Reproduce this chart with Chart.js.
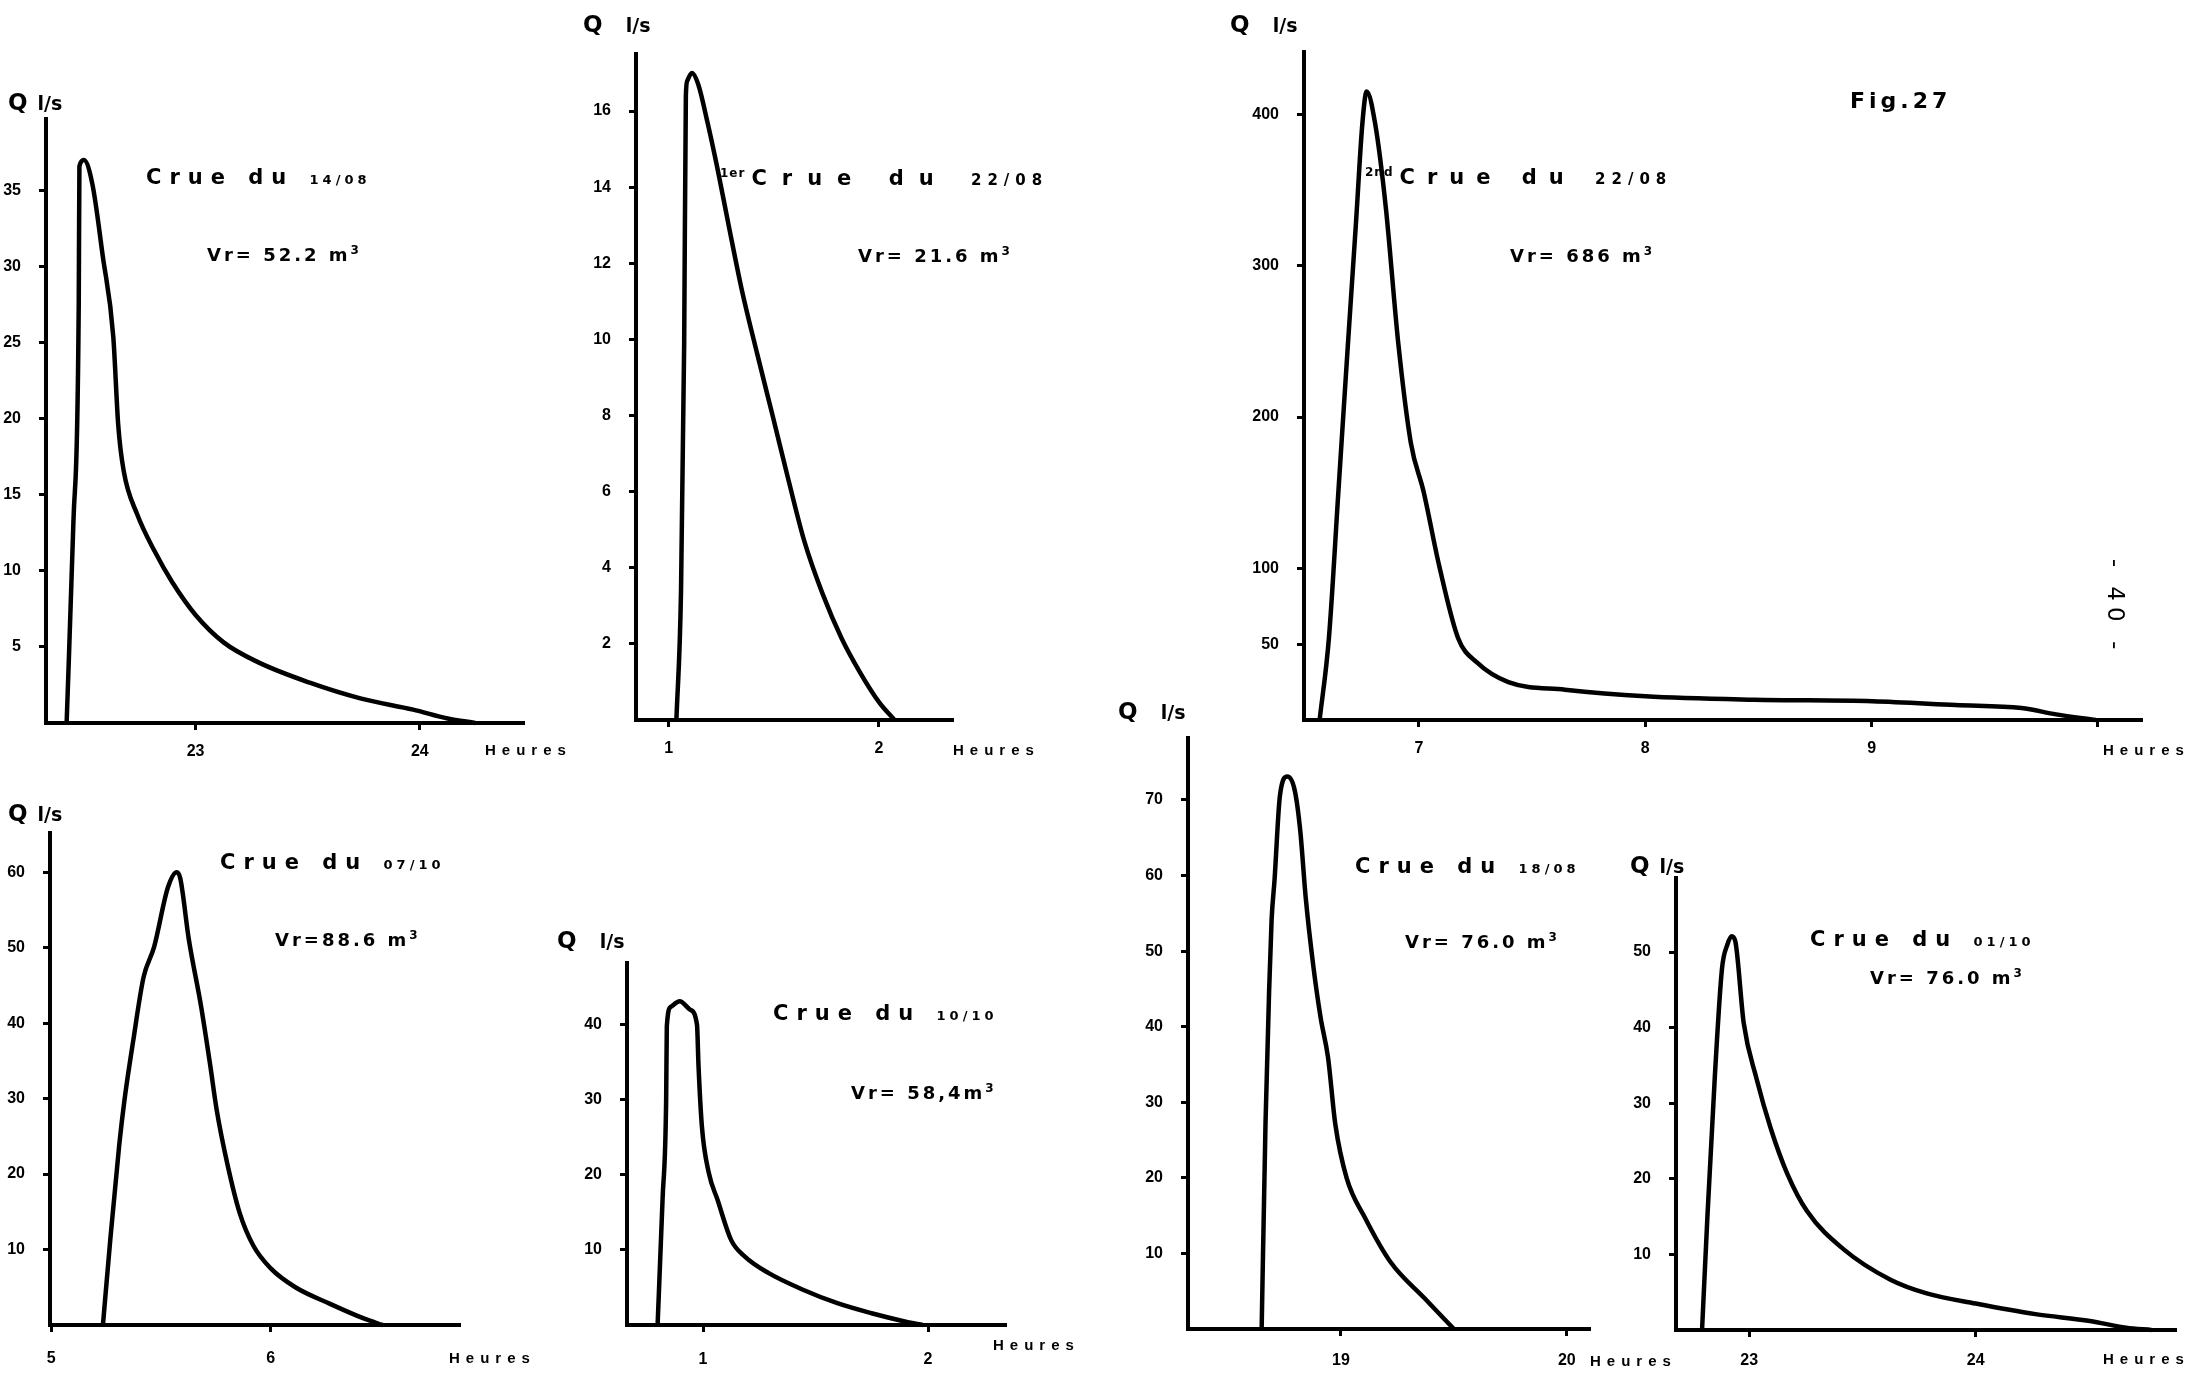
<!DOCTYPE html>
<html>
<head>
<meta charset="utf-8">
<script src="https://cdn.jsdelivr.net/npm/chart.js@4.4.1/dist/chart.umd.min.js"></script>
<style>
  html, body { margin: 0; padding: 0; background: #fff; }
  body { width: 2187px; height: 1376px; position: relative; overflow: hidden; }
  canvas { position: absolute; }
  .txt { position: absolute; color: #000; white-space: nowrap; line-height: 1; transform: translateY(-50%); }
  .q { font: bold 19px 'DejaVu Sans'; }
  .q b { font-size: 23px; margin-right: 10px; }
  .title { font: bold 21px 'DejaVu Sans'; letter-spacing: 8px; }
  .title small { font-size: 13px; letter-spacing: 4px; }
  .title.w14 { letter-spacing: 15px; }
  .title.w12 { letter-spacing: 12px; }
  .title.w14 small, .title.w12 small { font-size: 15px; letter-spacing: 6px; }
  .title sup, .vr sup { font-size: 12px; letter-spacing: 1px; }
  .title sup { margin-right: 6px; }
  .vr { font: bold 18px 'DejaVu Sans'; letter-spacing: 3px; }
  .unit { font: bold 15px 'Liberation Sans'; letter-spacing: 6px; }
  .fig { font: bold 22px 'DejaVu Sans'; letter-spacing: 4px; }
  .page { font: 23px 'DejaVu Sans'; letter-spacing: 6px; writing-mode: vertical-rl; transform: translate(-50%, -50%); }
</style>
</head>
<body>
<script>
// Crue du 14/08
var p1Hours = [22.425, 22.455, 22.479, 22.482, 22.502, 22.54, 22.586, 22.633, 22.655, 22.679, 22.74, 22.817, 22.894, 23.0, 23.125, 23.278, 23.509, 23.739, 23.97, 24.124, 24.247];
var p1Flow = [0, 13.1, 27.5, 36.6, 37.0, 35.4, 30.7, 25.4, 19.6, 16.6, 13.7, 11.3, 9.3, 7.1, 5.3, 4.0, 2.65, 1.6, 0.88, 0.3, 0];
var p1XTicks = [23, 24];
var p1XLabels = ['23', '24'];
var p1YTicks = [5, 10, 15, 20, 25, 30, 35];
var p1YLabels = ['5', '10', '15', '20', '25', '30', '35'];

// 1er crue du 22/08
var p2Hours = [1.037, 1.059, 1.074, 1.082, 1.089, 1.111, 1.141, 1.185, 1.23, 1.289, 1.348, 1.422, 1.496, 1.57, 1.645, 1.733, 1.822, 1.911, 2.0, 2.074];
var p2Flow = [0, 3.4, 9.9, 16.4, 16.8, 17.0, 16.7, 15.7, 14.55, 12.9, 11.3, 9.6, 7.96, 6.3, 4.7, 3.3, 2.15, 1.24, 0.47, 0];
var p2XTicks = [1, 2];
var p2XLabels = ['1', '2'];
var p2YTicks = [2, 4, 6, 8, 10, 12, 14, 16];
var p2YLabels = ['2', '4', '6', '8', '10', '12', '14', '16'];

// 2nd crue du 22/08
var p3Hours = [6.561, 6.602, 6.644, 6.686, 6.722, 6.75, 6.769, 6.806, 6.853, 6.909, 6.964, 7.02, 7.089, 7.173, 7.256, 7.395, 7.645, 8.0, 8.48, 9.003, 9.37, 9.662, 9.815, 9.99];
var p3Flow = [0, 54, 151, 248, 329, 394, 415, 394, 339, 248, 183, 151, 102, 54, 38, 25, 20, 15.7, 13.4, 12.4, 9.9, 7.9, 3.7, 0];
var p3XTicks = [7, 8, 9, 10];
var p3XLabels = ['7', '8', '9', ''];
var p3YTicks = [50, 100, 200, 300, 400];
var p3YLabels = ['50', '100', '200', '300', '400'];

// Crue du 07/10
var p4Hours = [5.236, 5.27, 5.31, 5.334, 5.374, 5.421, 5.469, 5.532, 5.572, 5.588, 5.627, 5.683, 5.723, 5.755, 5.802, 5.858, 5.921, 6.0, 6.112, 6.27, 6.429, 6.509];
var p4Flow = [0, 11.5, 23.8, 29.8, 37.7, 46.1, 50.1, 58.0, 60.0, 59.2, 51.1, 42.2, 34.7, 28.3, 21.4, 14.9, 10.5, 7.5, 5.0, 2.8, 0.8, 0];
var p4XTicks = [5, 6];
var p4XLabels = ['5', '6'];
var p4YTicks = [10, 20, 30, 40, 50, 60];
var p4YLabels = ['10', '20', '30', '40', '50', '60'];

// Crue du 10/10
var p5Hours = [0.798, 0.82, 0.836, 0.839, 0.858, 0.896, 0.942, 0.973, 0.98, 0.995, 1.026, 1.064, 1.125, 1.186, 1.292, 1.444, 1.597, 1.749, 1.901, 1.977];
var p5Flow = [0, 16.7, 30, 39.8, 42.4, 43.1, 42, 40, 34.4, 26.4, 20.2, 16.7, 11.3, 9.1, 6.9, 4.7, 2.9, 1.56, 0.44, 0];
var p5XTicks = [1, 2];
var p5XLabels = ['1', '2'];
var p5YTicks = [10, 20, 30, 40];
var p5YLabels = ['10', '20', '30', '40'];

// Crue du 18/08
var p6Hours = [18.649, 18.666, 18.682, 18.693, 18.706, 18.73, 18.763, 18.796, 18.82, 18.844, 18.877, 18.91, 18.943, 18.975, 19.025, 19.107, 19.221, 19.369, 19.5];
var p6Flow = [0, 27.1, 44.7, 54.1, 59.4, 70.6, 73.1, 71.2, 65.9, 57.1, 48.2, 41.2, 35.9, 27.1, 20.0, 14.7, 8.8, 4.1, 0];
var p6XTicks = [19, 20];
var p6XLabels = ['19', '20'];
var p6YTicks = [10, 20, 30, 40, 50, 60, 70];
var p6YLabels = ['10', '20', '30', '40', '50', '60', '70'];

// Crue du 01/10
var p7Hours = [22.792, 22.816, 22.848, 22.88, 22.904, 22.923, 22.939, 22.976, 23.032, 23.096, 23.168, 23.256, 23.416, 23.624, 23.784, 24.0, 24.264, 24.504, 24.664, 24.776];
var p7Flow = [0, 15.2, 33.3, 47.8, 51.0, 52.1, 51.4, 40.6, 33.3, 26.6, 20.7, 15.7, 10.7, 6.65, 4.84, 3.5, 2.1, 1.2, 0.3, 0];
var p7XTicks = [23, 24];
var p7XLabels = ['23', '24'];
var p7YTicks = [10, 20, 30, 40, 50];
var p7YLabels = ['10', '20', '30', '40', '50'];

// where each small graph sits on the page (plot area: left, top, right, bottom)
var panels = [
  {box: [46, 119, 523, 723], xMin: 22.333, xMax: 24.46, yMax: 39.7, xPad: 12, hours: p1Hours, flow: p1Flow, xt: p1XTicks, xl: p1XLabels, yt: p1YTicks, yl: p1YLabels},
  {box: [636, 54, 952, 720], xMin: 0.845, xMax: 2.347, yMax: 17.5, xPad: 12, hours: p2Hours, flow: p2Flow, xt: p2XTicks, xl: p2XLabels, yt: p2YTicks, yl: p2YLabels},
  {box: [1304, 52, 2141, 720], xMin: 6.492, xMax: 10.19, yMax: 441, xPad: 12, hours: p3Hours, flow: p3Flow, xt: p3XTicks, xl: p3XLabels, yt: p3YTicks, yl: p3YLabels},
  {box: [50, 833, 459, 1325], xMin: 4.995, xMax: 6.857, yMax: 65.2, xPad: 17, hours: p4Hours, flow: p4Flow, xt: p4XTicks, xl: p4XLabels, yt: p4YTicks, yl: p4YLabels},
  {box: [627, 963, 1005, 1325], xMin: 0.662, xMax: 2.342, yMax: 48.2, xPad: 18, hours: p5Hours, flow: p5Flow, xt: p5XTicks, xl: p5XLabels, yt: p5YTicks, yl: p5YLabels},
  {box: [1188, 738, 1589, 1329], xMin: 18.323, xMax: 20.098, yMax: 78.2, xPad: 15, hours: p6Hours, flow: p6Flow, xt: p6XTicks, xl: p6XLabels, yt: p6YTicks, yl: p6YLabels},
  {box: [1676, 878, 2175, 1330], xMin: 22.677, xMax: 24.88, yMax: 59.8, xPad: 14, hours: p7Hours, flow: p7Flow, xt: p7XTicks, xl: p7XLabels, yt: p7YTicks, yl: p7YLabels}
];

var texts = [
  [8, 102, 'q', '<b>Q</b>l/s'],
  [146, 177, 'title', 'Crue du <small>14/08</small>'],
  [207, 254, 'vr', 'Vr= 52.2 m<sup>3</sup>'],
  [485, 749, 'unit', 'Heures'],

  [583, 24, 'q', '<b>Q</b>&nbsp; l/s'],
  [720, 178, 'title w14', '<sup>1er</sup>Crue du <small>22/08</small>'],
  [858, 255, 'vr', 'Vr= 21.6 m<sup>3</sup>'],
  [953, 749, 'unit', 'Heures'],

  [1230, 24, 'q', '<b>Q</b>&nbsp; l/s'],
  [1850, 100, 'fig', 'Fig.27'],
  [1365, 177, 'title w12', '<sup>2nd</sup>Crue du <small>22/08</small>'],
  [1510, 255, 'vr', 'Vr= 686 m<sup>3</sup>'],
  [2103, 749, 'unit', 'Heures'],
  [2116, 607, 'page', '- 40 -'],

  [8, 813, 'q', '<b>Q</b>l/s'],
  [220, 862, 'title', 'Crue du <small>07/10</small>'],
  [275, 939, 'vr', 'Vr=88.6 m<sup>3</sup>'],
  [449, 1357, 'unit', 'Heures'],

  [557, 940, 'q', '<b>Q</b>&nbsp; l/s'],
  [773, 1013, 'title', 'Crue du <small>10/10</small>'],
  [851, 1092, 'vr', 'Vr= 58,4m<sup>3</sup>'],
  [993, 1344, 'unit', 'Heures'],

  [1118, 711, 'q', '<b>Q</b>&nbsp; l/s'],
  [1355, 866, 'title', 'Crue du <small>18/08</small>'],
  [1405, 941, 'vr', 'Vr= 76.0 m<sup>3</sup>'],
  [1590, 1360, 'unit', 'Heures'],

  [1630, 865, 'q', '<b>Q</b>l/s'],
  [1810, 939, 'title', 'Crue du <small>01/10</small>'],
  [1870, 977, 'vr', 'Vr= 76.0 m<sup>3</sup>'],
  [2103, 1358, 'unit', 'Heures']
];

var axisFont = {family: 'Liberation Sans', size: 16, weight: 'bold'};

function makePanel(p) {
  // the y scale reserves label height + tick padding above the plot, so keep padTop above that
  var yW = 60, xH = 50, padTop = 30, padRight = 30;
  var canvas = document.createElement('canvas');
  canvas.width = p.box[2] - p.box[0] + yW + padRight;
  canvas.height = p.box[3] - p.box[1] + padTop + xH;
  canvas.style.left = (p.box[0] - yW) + 'px';
  canvas.style.top = (p.box[1] - padTop) + 'px';
  document.body.appendChild(canvas);

  var points = [];
  for (var i in p.hours) {
    points.push({x: p.hours[i], y: p.flow[i]});
  }

  new Chart(canvas, {
    type: 'line',
    data: {
      datasets: [{
        data: points,
        borderColor: '#000',
        borderWidth: 4.5,
        pointRadius: 0,
        fill: false,
        tension: 0.4,
        cubicInterpolationMode: 'monotone',
        clip: false
      }]
    },
    options: {
      responsive: false,
      animation: false,
      layout: {autoPadding: false, padding: {top: padTop, right: padRight, left: 0, bottom: 0}},
      plugins: {legend: {display: false}, tooltip: {enabled: false}},
      scales: {
        x: {
          type: 'linear', min: p.xMin, max: p.xMax,
          afterBuildTicks: function(s) { s.ticks = p.xt.map(function(v) { return {value: v}; }); },
          afterFit: function(s) { s.height = xH; },
          ticks: {
            autoSkip: false, maxRotation: 0, minRotation: 0, color: '#000', font: axisFont, padding: p.xPad,
            callback: function(v, idx) { return p.xl[idx]; }
          },
          grid: {drawOnChartArea: false, drawTicks: true, tickLength: 7, color: '#000', lineWidth: 3},
          border: {display: true, color: '#000', width: 4}
        },
        y: {
          type: 'linear', min: 0, max: p.yMax,
          afterBuildTicks: function(s) { s.ticks = p.yt.map(function(v) { return {value: v}; }); },
          afterFit: function(s) { s.width = yW; },
          ticks: {
            color: '#000', font: axisFont, padding: 18,
            callback: function(v, idx) { return p.yl[idx]; }
          },
          grid: {drawOnChartArea: false, drawTicks: true, tickLength: 7, color: '#000', lineWidth: 3},
          border: {display: true, color: '#000', width: 4}
        }
      }
    }
  });
}

panels.forEach(makePanel);

texts.forEach(function(t) {
  var d = document.createElement('div');
  d.className = 'txt ' + t[2];
  d.style.left = t[0] + 'px';
  d.style.top = t[1] + 'px';
  d.innerHTML = t[3];
  document.body.appendChild(d);
});
</script>
</body>
</html>
